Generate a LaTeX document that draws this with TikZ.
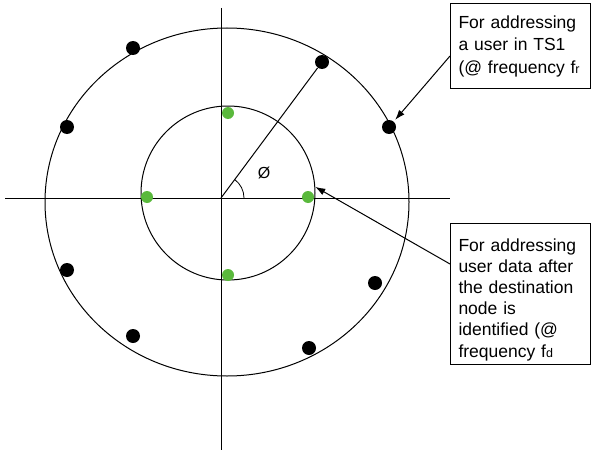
\documentclass[tikz,border=0pt]{standalone}
\usepackage{fontspec}
\setsansfont{Liberation Sans}
\usepackage{xcolor}
\usetikzlibrary{shapes.geometric, arrows.meta, positioning, calc, angles}

\definecolor{dotgreen}{RGB}{90,185,60}

\tikzset{
    blackdot/.style={circle, fill=black, inner sep=0pt, minimum size=14pt},
    greendot/.style={circle, fill=dotgreen, inner sep=0pt, minimum size=12pt},
    notebox/.style={draw, line width=1pt, align=left, inner xsep=8pt,
        font=\sffamily\fontsize{17.5}{22.5}\selectfont, text width=124pt},
    pointer/.style={line width=1pt, -{Latex[length=10pt, width=7pt]}},
}
\newcommand{\idx}[1]{{\fontsize{12.5}{12.5}\selectfont #1}}

\begin{document}
\begin{tikzpicture}[x=1pt, y=-1pt, line width=1pt]
\useasboundingbox (0,0) rectangle (591,452);

% axes
\coordinate (O) at (221,198);
\coordinate (xl) at (5,198);
\coordinate (xr) at (450,198);
\coordinate (yt) at (221,8);
\coordinate (yb) at (221,450);
\draw (xl) -- (xr);
\draw (yt) -- (yb);

% rings
\node[draw, circle, minimum size=174pt, inner sep=0pt] (inner) at (228,193) {};
\node[draw, ellipse, minimum width=364pt, minimum height=348pt, inner sep=0pt] (outer) at (227,202) {};

% users
\foreach \n/\px/\py in {b1/133/48, b2/67/127, b3/322/62, b4/389/127,
                        b5/67/270, b6/133/336, b7/375/283, b8/309/348}
    \node[blackdot] (\n) at (\px,\py) {};
\foreach \n/\px/\py in {g1/228/113, g2/147/197, g3/308/197, g4/228/275}
    \node[greendot] (\n) at (\px,\py) {};

% radius and angle
\draw (O) -- (b3);
\pic[draw, line width=0.8pt, angle radius=23pt] {angle = xr--O--b3};
\node[font=\sffamily\fontsize{16}{16}\selectfont] (phi) at (264,173) {Ø};

% notes
\node[notebox, minimum height=85pt, anchor=north west] (noteTS) at (450,3)
    {For addressing\\ a user in TS1\\ (@ frequency f\idx{r}};
\node[notebox, font=\sffamily\fontsize{17.5}{21.2}\selectfont,
      minimum height=141pt, anchor=north west] (noteData) at (450,223)
    {\rule{0pt}{24pt}For addressing\\ user data after\\ the destination\\ node is\\ identified (@\\ frequency f\idx{d}};

\draw[pointer, shorten >=2pt] ([yshift=-10pt]noteTS.west) -- (b4);
\draw[pointer] ([yshift=30pt]noteData.west) -- (inner.4);
\end{tikzpicture}
\end{document}
